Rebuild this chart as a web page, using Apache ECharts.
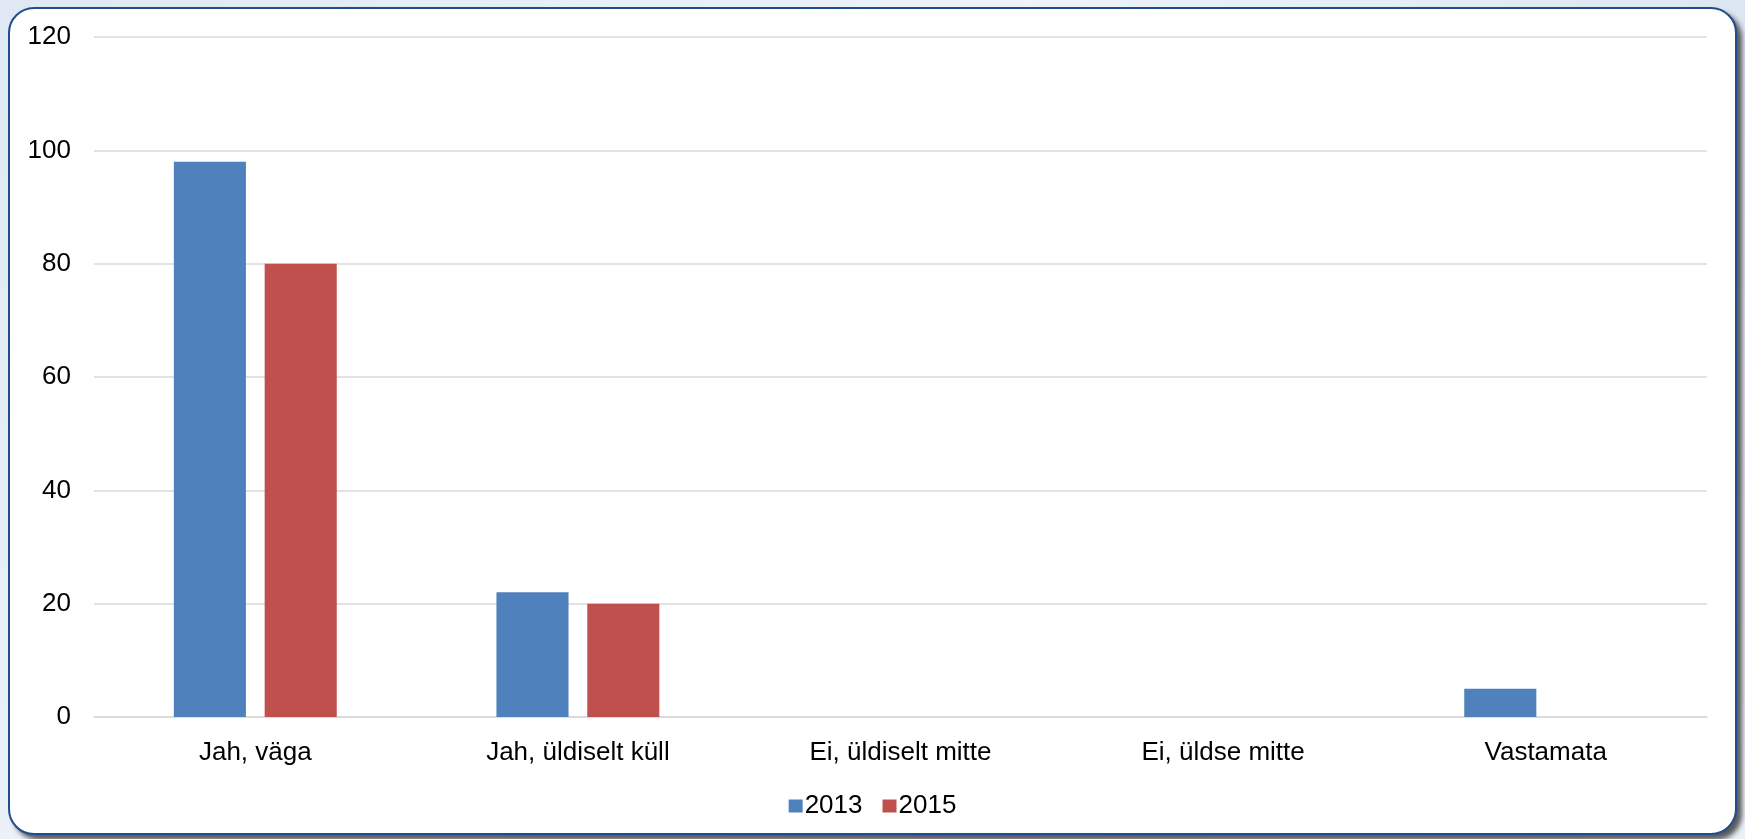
<!DOCTYPE html>
<html>
<head>
<meta charset="utf-8">
<script src="https://cdn.jsdelivr.net/npm/echarts@6/dist/echarts.min.js"></script>
<style>
  html, body { margin: 0; padding: 0; width: 1745px; height: 839px; overflow: hidden;
    background: linear-gradient(135deg, #dfe8f3 0%, #eef3f9 40%, #dbe5f1 70%, #eaf0f7 100%); }
  #card { position: absolute; left: 8px; top: 7px; width: 1725px; height: 824px;
    background: #fff; border: 2px solid #1f4e8a; border-radius: 26px;
    box-shadow: 5px 5px 5px rgba(40,40,40,0.75); }
  #chart { position: absolute; left: 0; top: 0; width: 1745px; height: 839px; }
</style>
</head>
<body>
<div id="card"></div>
<div id="chart"></div>
<script>
const categories = ['Jah, väga', 'Jah, üldiselt küll', 'Ei, üldiselt mitte', 'Ei, üldse mitte', 'Vastamata'];
const seriesNames = ['2013', '2015'];
const values2013 = [98, 22, 0, 0, 5];
const values2015 = [80, 20, 0, 0, 0];
const colors = ['#4F81BD', '#C0504D'];

const chart = echarts.init(document.getElementById('chart'));
const font = 'Liberation Sans, Arial, sans-serif';
chart.setOption({
  backgroundColor: 'transparent',
  animation: false,
  textStyle: { fontFamily: font },
  grid: { left: 94, right: 38, top: 37, bottom: 122 },
  legend: {
    data: seriesNames,
    left: 'center',
    top: 788,
    itemWidth: 14,
    itemHeight: 13,
    itemGap: 20,
    icon: 'rect',
    textStyle: { fontSize: 26, color: '#000', fontFamily: font, padding: [0, 0, 0, -3] }
  },
  xAxis: {
    type: 'category',
    data: categories,
    axisLine: { show: true, lineStyle: { color: '#d9d9d9', width: 1.5 } },
    axisTick: { show: false },
    axisLabel: { fontSize: 26, color: '#000', margin: 23, fontFamily: font }
  },
  yAxis: {
    type: 'value',
    min: 0, max: 120, interval: 20,
    axisLine: { show: false },
    axisTick: { show: false },
    splitLine: { lineStyle: { color: '#d9d9d9', width: 1.5 } },
    axisLabel: { fontSize: 26, color: '#000', margin: 23, fontFamily: font }
  },
  series: [
    { name: seriesNames[0], type: 'bar', data: values2013, itemStyle: { color: colors[0] },
      barGap: '26%', barCategoryGap: '49.5%' },
    { name: seriesNames[1], type: 'bar', data: values2015, itemStyle: { color: colors[1] },
      barGap: '26%', barCategoryGap: '49.5%' }
  ]
});
</script>
</body>
</html>
